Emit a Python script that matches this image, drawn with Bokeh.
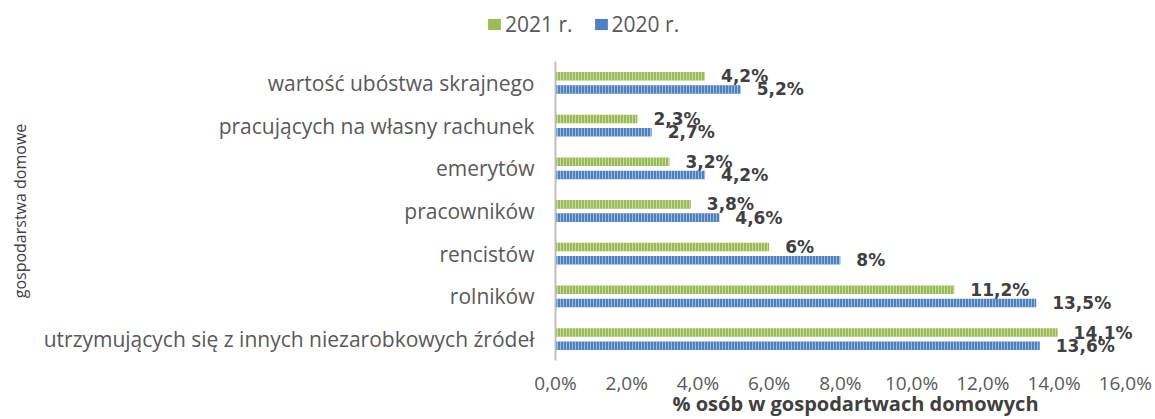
from bokeh.plotting import figure
from bokeh.layouts import column
from bokeh.models import Range1d, FixedTicker, Legend, LegendItem, ColumnDataSource
from bokeh.core.properties import value
from bokeh.embed import file_html
from bokeh.resources import INLINE

categories = [
    "wartość ubóstwa skrajnego",
    "pracujących na własny rachunek",
    "emerytów",
    "pracowników",
    "rencistów",
    "rolników",
    "utrzymujących się z innych niezarobkowych źródeł",
]
values_2021 = [4.2, 2.3, 3.2, 3.8, 6.0, 11.2, 14.1]
values_2020 = [5.2, 2.7, 4.2, 4.6, 8.0, 13.5, 13.6]
labels_2021 = ["4,2%", "2,3%", "3,2%", "3,8%", "6%", "11,2%", "14,1%"]
labels_2020 = ["5,2%", "2,7%", "4,2%", "4,6%", "8%", "13,5%", "13,6%"]
tick_values = [0, 2, 4, 6, 8, 10, 12, 14, 16]
tick_labels = ["0,0%", "2,0%", "4,0%", "6,0%", "8,0%", "10,0%", "12,0%", "14,0%", "16,0%"]
series_names = ["2021 r.", "2020 r."]
x_title = "% osób w gospodartwach domowych"
y_title = "gospodarstwa domowe"

GREEN = "#9BBB59"
BLUE = "#4F81BD"
FONT = "Open Sans"
bar_style = dict(line_color=None, hatch_pattern="vertical_line", hatch_color="white",
                 hatch_alpha=0.45, hatch_scale=3, hatch_weight=1)

idx = list(range(len(categories)))

# ---- legend strip on top ----
p_top = figure(width=1155, height=61, output_backend="svg", toolbar_location=None,
               x_range=Range1d(0, 1155), y_range=Range1d(0, 61),
               min_border_left=0, min_border_right=0, min_border_top=0, min_border_bottom=0)
p_top.frame_align = False
p_top.axis.visible = False
p_top.grid.grid_line_color = None
p_top.outline_line_color = None
# zero-area swatch renderers (nothing drawn; used only for legend swatches)
leg21 = p_top.quad(left=0, right=0, bottom=0, top=0, fill_color=GREEN, line_color=None)
leg20 = p_top.quad(left=0, right=0, bottom=0, top=0, fill_color=BLUE, line_color=None)
legend = Legend(items=[LegendItem(label=series_names[0], renderers=[leg21]),
                       LegendItem(label=series_names[1], renderers=[leg20])],
                orientation="horizontal", location=(486, 23),
                border_line_color=None, background_fill_alpha=0,
                label_text_font=FONT, label_text_font_size="21px",
                label_text_color="#595959", glyph_width=16, glyph_height=14,
                label_standoff=3, spacing=20, padding=0, margin=0)
p_top.add_layout(legend)

# ---- main chart ----
src21 = ColumnDataSource(dict(y=[i - 0.155 for i in idx], v=values_2021, t=labels_2021))
src20 = ColumnDataSource(dict(y=[i + 0.155 for i in idx], v=values_2020, t=labels_2020))

p = figure(width=1155, height=358, output_backend="svg", toolbar_location=None,
           x_range=Range1d(0, 16.85), y_range=Range1d(6.5, -0.5),
           min_border_left=555, min_border_right=0, min_border_top=0, min_border_bottom=54)
p.frame_align = False
p.outline_line_color = None
p.grid.grid_line_color = None
p.background_fill_color = "white"

p.hbar(y="y", right="v", source=src21, height=0.2, left=0, fill_color=GREEN, **bar_style)
p.hbar(y="y", right="v", source=src20, height=0.2, left=0, fill_color=BLUE, **bar_style)

for s in (src21, src20):
    p.text(x="v", y="y", text="t", source=s, x_offset=16, text_baseline="middle",
           text_align="left", text_font=value("DejaVu Sans"), text_font_style="bold",
           text_font_size="17px", text_color="#404040")

# y axis
ya = p.yaxis[0]
ya.ticker = FixedTicker(ticks=idx)
ya.major_label_overrides = {i: c for i, c in zip(idx, categories)}
ya.major_label_text_font = FONT
ya.major_label_text_font_size = "21px"
ya.major_label_text_color = "#595959"
ya.major_label_standoff = 15
ya.major_tick_line_color = None
ya.minor_tick_line_color = None
ya.axis_line_color = "#BFBFBF"
ya.axis_line_width = 2
ya.axis_label = y_title
ya.axis_label_text_font = FONT
ya.axis_label_text_font_size = "16px"
ya.axis_label_text_font_style = "normal"
ya.axis_label_text_color = "#404040"
ya.axis_label_standoff = 10

# x axis
xa = p.xaxis[0]
xa.ticker = FixedTicker(ticks=tick_values)
xa.major_label_overrides = {v: l for v, l in zip(tick_values, tick_labels)}
xa.major_label_text_font = FONT
xa.major_label_text_font_size = "19px"
xa.major_label_text_color = "#595959"
xa.major_label_standoff = 3
xa.major_tick_line_color = None
xa.minor_tick_line_color = None
xa.axis_line_color = None
xa.axis_label = x_title
xa.axis_label_text_font = FONT
xa.axis_label_text_font_size = "20px"
xa.axis_label_text_font_style = "bold"
xa.axis_label_text_color = "#404040"
xa.axis_label_standoff = -9

layout = column(p_top, p, spacing=0)
open("out.html", "w").write(file_html(layout, INLINE))
